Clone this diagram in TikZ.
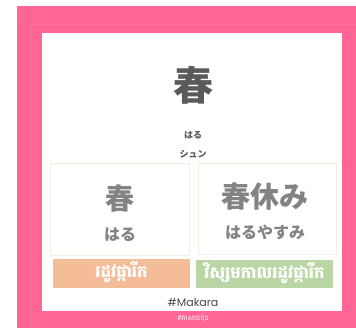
\documentclass[tikz,border=0pt]{standalone}
\usepackage{fontspec}
\setmainfont{Noto Sans CJK JP}
\newfontfamily\khmerfont[Script=Khmer]{Battambang}
\newfontfamily\tagfont{Poppins}
\definecolor{framepink}{HTML}{FF6694}
\definecolor{inkgray}{HTML}{5A5A5A}
\definecolor{boxline}{HTML}{EEF0E2}
\definecolor{barorange}{HTML}{F4BC97}
\definecolor{bargreen}{HTML}{B9D6A4}
\begin{document}
\begin{tikzpicture}[x=1pt,y=-1pt]
    \useasboundingbox (0,0) rectangle (356,328);
    \fill[framepink] (17,6) rectangle (356,328);
    \draw[framepink!90!white,line width=0.6pt] (30,24) rectangle (356,328);
    \fill[white] (42,33) rectangle (342,311);
    % word and readings
    \node[text=inkgray,font=\fontsize{40}{40}\selectfont\bfseries] (kanji) at (193,85) {春};
    \node[text=inkgray,font=\fontsize{9}{9}\selectfont\bfseries] (kun) at (193,135) {はる};
    \node[text=inkgray,font=\fontsize{9}{9}\selectfont\bfseries] (on) at (193,154) {シュン};
    % example boxes
    \draw[boxline,line width=0.8pt] (50,163) rectangle (189,255);
    \draw[boxline,line width=0.8pt] (198,163) rectangle (336,254);
    \node[text=inkgray!75!white,font=\fontsize{29}{29}\selectfont\bfseries] (word1) at (120,198) {春};
    \node[text=inkgray!75!white,font=\fontsize{16}{16}\selectfont\bfseries] (read1) at (120,235) {はる};
    \node[text=inkgray!75!white,font=\fontsize{29}{29}\selectfont\bfseries] (word2) at (265,196) {春休み};
    \node[text=inkgray!75!white,font=\fontsize{16}{16}\selectfont\bfseries] (read2) at (265,232) {はるやすみ};
    % meanings
    \fill[barorange] (53,259) rectangle (190,288);
    \fill[bargreen] (196,260) rectangle (333,288);
    \node[text=white,font=\khmerfont\fontsize{16.5}{17}\selectfont\bfseries] (mean1) at (121.5,272.5) {រដូវផ្ការីក};
    \node[text=white,font=\khmerfont\fontsize{16.5}{17}\selectfont\bfseries] (mean2) at (264.5,273) {វិស្សមកាលរដូវផ្ការីក};
    % tags
    \node[text=inkgray!80!black,font=\tagfont\fontsize{11}{11}\selectfont] (tag) at (193,302) {\#Makara};
    \node[text=white,font=\khmerfont\fontsize{7}{7}\selectfont] (lang) at (193,318) {\#ភាសាជប៉ុន};
\end{tikzpicture}
\end{document}
